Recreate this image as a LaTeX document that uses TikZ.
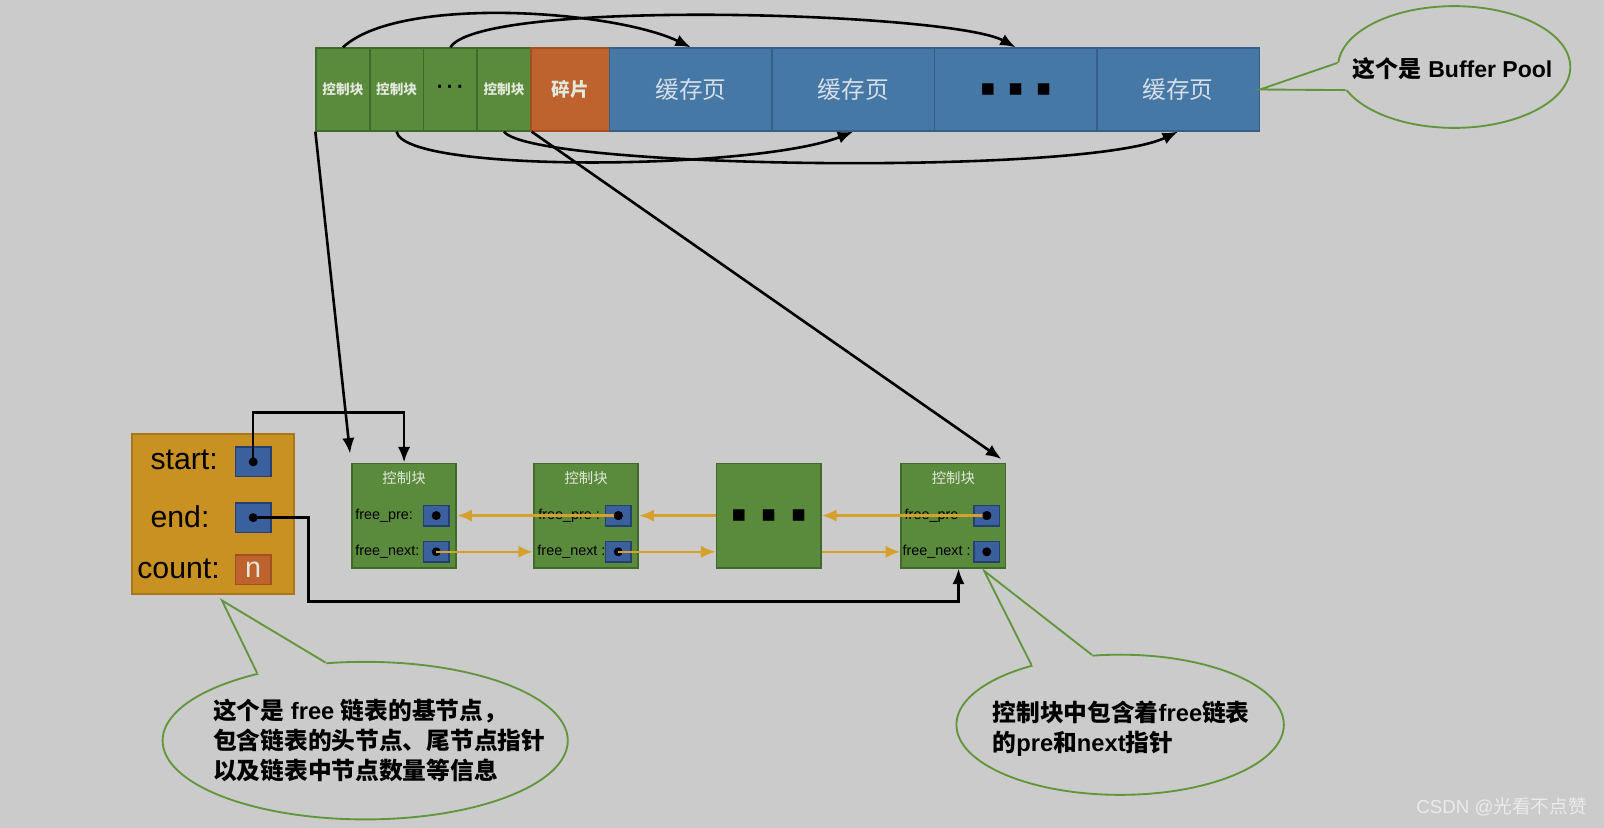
\documentclass[tikz,border=0pt]{standalone}
\usepackage{fontspec}
\setmainfont{Liberation Sans}
\newfontfamily\cjk{Noto Sans CJK SC}
\newfontfamily\symfont{DejaVu Sans}
\usetikzlibrary{arrows.meta,positioning,shapes.geometric}

\definecolor{bggray}{HTML}{CBCBCB}
\definecolor{ctlgreen}{HTML}{5A8A3C}
\definecolor{ctledge}{HTML}{3F6A2B}
\definecolor{ctltext}{HTML}{E2E8DC}
\definecolor{pageblue}{HTML}{4678A6}
\definecolor{pageedge}{HTML}{355F87}
\definecolor{pagetext}{HTML}{D6DEE8}
\definecolor{fragorange}{HTML}{BE622E}
\definecolor{fragedge}{HTML}{A24F22}
\definecolor{basegold}{HTML}{C89121}
\definecolor{baseedge}{HTML}{A77818}
\definecolor{ptrblue}{HTML}{3A609E}
\definecolor{ptredge}{HTML}{243F70}
\definecolor{linkgold}{HTML}{D6A12A}
\definecolor{notegreen}{HTML}{62963C}

\tikzset{
  ctlcell/.style={draw=ctledge, fill=ctlgreen, line width=1pt, inner sep=0pt,
    minimum width=1.3125cm, minimum height=2.025cm, text=ctltext,
    font=\cjk\bfseries\fontsize{9.5}{11}\selectfont},
  fragcell/.style={ctlcell, draw=fragedge, fill=fragorange, minimum width=1.925cm,
    font=\cjk\bfseries\fontsize{13}{15}\selectfont},
  pagecell/.style={ctlcell, draw=pageedge, fill=pageblue, minimum width=3.96875cm,
    text=pagetext, font=\cjk\fontsize{16.5}{19}\selectfont},
  listnode/.style={draw=ctledge, fill=ctlgreen, line width=1.2pt, inner sep=0pt,
    minimum size=2.55cm},
  listtitle/.style={inner sep=0pt, text=ctltext, font=\cjk\fontsize{10}{12}\selectfont},
  ptrbox/.style={draw=ptredge, fill=ptrblue, line width=1pt, inner sep=0pt,
    minimum width=0.625cm, minimum height=0.5cm},
  bigptr/.style={ptrbox, minimum width=0.875cm, minimum height=0.725cm},
  ptrdot/.style={circle, fill=black, inner sep=0pt, minimum size=0.22cm},
  fieldlbl/.style={inner sep=0pt, anchor=west, font=\fontsize{10}{12}\selectfont},
  baselbl/.style={inner sep=0pt, font=\fontsize{21}{25}\selectfont},
  ptr/.style={-{Latex[length=0.38cm,width=0.3cm]}, line width=1.8pt, black},
  link/.style={-{Latex[length=0.36cm,width=0.3cm]}, line width=1.8pt, linkgold},
  notebubble/.style={ellipse, draw=notegreen, line width=1.3pt, inner sep=0pt},
  notetail/.style={notegreen, line width=1.3pt, line join=miter},
  notetxt/.style={inner sep=0pt, anchor=west, align=left,
    font=\bfseries\fontsize{16.5}{21}\selectfont},
}

\begin{document}
\begin{tikzpicture}[x=0.025cm, y=-0.025cm]
  \useasboundingbox (0,0) rectangle (1568,809);
  \fill[bggray] (0,0) rectangle (1568,809);

  % buffer pool
  \node[ctlcell] (ctlA) at (335.25,87.5) {控制块};
  \node[ctlcell] (ctlB) at (387.75,87.5) {控制块};
  \node[ctlcell, text=black, font=\bfseries\fontsize{14}{16}\selectfont] (ctlDots) at (440.25,87.5) {\raisebox{-1.5pt}{·\,·\,·}};
  \node[ctlcell] (ctlC) at (492.75,87.5) {控制块};
  \node[fragcell] (frag) at (557.5,87.5) {碎片};
  \node[pagecell] (pageA) at (675.4,87.5) {缓存页};
  \node[pagecell] (pageB) at (834.1,87.5) {缓存页};
  \node[pagecell, text=black, font=\symfont\fontsize{16}{18}\selectfont] (pageDots) at (992.9,87.5) {▪\hspace{0.3cm}▪\hspace{0.3cm}▪};
  \node[pagecell] (pageC) at (1151.6,87.5) {缓存页};

  \draw[ptr] (ctlA.north) .. controls (390,-5) and (600,10) .. (pageA.north);
  \draw[ptr] (ctlDots.north) .. controls (470,-2) and (930,12) .. (pageDots.north);
  \draw[ptr] (ctlB.south) .. controls (395,170) and (740,166) .. (pageB.south);
  \draw[ptr] (ctlC.south) .. controls (520,165) and (1060,172) .. (pageC.south);

  % base node of the free list
  \node[draw=baseedge, fill=basegold, line width=1.3pt, minimum width=3.95cm, minimum height=3.925cm] (base) at (208,502.5) {};
  \node[baselbl] (startLbl) at (180,450) {start:};
  \node[baselbl] (endLbl) at (176,505) {end:};
  \node[baselbl] (countLbl) at (174.5,556) {count:};
  \node[bigptr] (startBox) at (247.5,451.5) {};
  \node[bigptr] (endBox) at (247.5,506) {};
  \node[bigptr, draw=fragedge, fill=fragorange, text=ctltext, font=\fontsize{20}{22}\selectfont] (countBox) at (247.5,557) {n};
  \node[ptrdot] (startDot) at (startBox) {};
  \node[ptrdot] (endDot) at (endBox) {};

  % control blocks of the free list
  \node[listnode] (lnA) at (395,504) {};
  \node[listnode] (lnB) at (573,504) {};
  \node[listnode, font=\symfont\fontsize{16}{18}\selectfont] (lnC) at (751.5,504) {▪\hspace{0.35cm}▪\hspace{0.35cm}▪};
  \node[listnode] (lnD) at (932,504) {};

  \node[listtitle, below=0.22cm of lnA.north] (lnATitle) {控制块};
  \node[listtitle, below=0.22cm of lnB.north] (lnBTitle) {控制块};
  \node[listtitle, below=0.22cm of lnD.north] (lnDTitle) {控制块};

  \node[ptrbox, left=0.18cm of lnA.east] (preA) {};
  \node[ptrbox, below=0.35cm of preA] (nextA) {};
  \node[ptrbox, left=0.18cm of lnB.east] (preB) {};
  \node[ptrbox, below=0.35cm of preB] (nextB) {};
  \node[ptrbox, left=0.15cm of lnD.east] (preD) {};
  \node[ptrbox, below=0.35cm of preD] (nextD) {};
  \foreach \p in {preA,nextA,preB,nextB,preD,nextD}
    \node[ptrdot] (\p Dot) at (\p) {};

  \node[fieldlbl] (preALbl) at ([xshift=0.1cm]lnA.west |- preA) {free\_pre:};
  \node[fieldlbl] (nextALbl) at ([xshift=0.1cm]lnA.west |- nextA) {free\_next:};
  \node[fieldlbl] (preBLbl) at ([xshift=0.12cm]lnB.west |- preB) {free\_pre :};
  \node[fieldlbl] (nextBLbl) at ([xshift=0.1cm]lnB.west |- nextB) {free\_next :};
  \node[fieldlbl] (preDLbl) at ([xshift=0.1cm]lnD.west |- preD) {free\_pre};
  \node[fieldlbl] (nextDLbl) at ([xshift=0.05cm]lnD.west |- nextD) {free\_next :};

  % pre / next links
  \draw[link] (preBDot.center) -- (lnA.east |- preB);
  \draw[link] (lnC.west) -- (lnB.east);
  \draw[link] (preDDot.center) -- (lnC.east |- preD);
  \draw[link] (nextADot.center) -- (lnB.west |- nextA);
  \draw[link] (nextBDot.center) -- (lnC.west |- nextB);
  \draw[link] (lnC.east |- nextD) -- (lnD.west |- nextD);
  \node[ptrdot] at (preB) {};
  \node[ptrdot] at (preD) {};

  % from the pool down to the list
  \draw[ptr, shorten >=0.22cm] (ctlA.south west) -- (lnA.north west);
  \draw[ptr, shorten >=0.15cm] (ctlC.south east) -- (lnD.north east);
  \draw[ptr] (startDot.center) -- ++(0,-48) -| (lnA.north);
  \draw[ptr] (endDot.center) -| ++(54,82) -| ([xshift=0.125cm]lnD.south);

  % callouts
  \node[notebubble, minimum width=5.675cm, minimum height=2.975cm] (noteBP) at (1421.5,65.5) {};
  \fill[bggray] (pageC.east) -- (noteBP.178) -- (noteBP.center) -- (noteBP.192) -- cycle;
  \draw[notetail] (noteBP.178) -- (pageC.east) -- (noteBP.192);
  \node[notetxt, anchor=center, font=\bfseries\fontsize{16}{19}\selectfont] (noteBPTxt) at (1420,67) {{\cjk 这个是} Buffer Pool};

  \node[notebubble, minimum width=9.9cm, minimum height=3.85cm] (noteFree) at (357,724) {};
  \coordinate (freeTip) at (217,587);
  \fill[bggray] (freeTip) -- (noteFree.148) -- (noteFree.center) -- (noteFree.117) -- cycle;
  \draw[notetail] (noteFree.148) -- (freeTip) -- (noteFree.117);
  \node[notetxt] (noteFreeTxt) at (208,724) {{\cjk 这个是} free {\cjk 链表的基节点，}\\{\cjk 包含链表的头节点、尾节点指针}\\{\cjk 以及链表中节点数量等信息}};

  \node[notebubble, minimum width=8cm, minimum height=3.425cm] (noteCtl) at (1095,708.5) {};
  \coordinate (ctlTip) at (962,558);
  \fill[bggray] (ctlTip) -- (noteCtl.146) -- (noteCtl.center) -- (noteCtl.112) -- cycle;
  \draw[notetail] (noteCtl.146) -- (ctlTip) -- (noteCtl.112);
  \node[notetxt] (noteCtlTxt) at (970,712) {{\cjk 控制块中包含着}free{\cjk 链表}\\{\cjk 的}pre{\cjk 和}next{\cjk 指针}};

  \node[text=white!92!black, font=\fontsize{13}{15}\selectfont] (mark) at (1468,789) {CSDN @{\cjk 光看不点赞}};
\end{tikzpicture}
\end{document}
